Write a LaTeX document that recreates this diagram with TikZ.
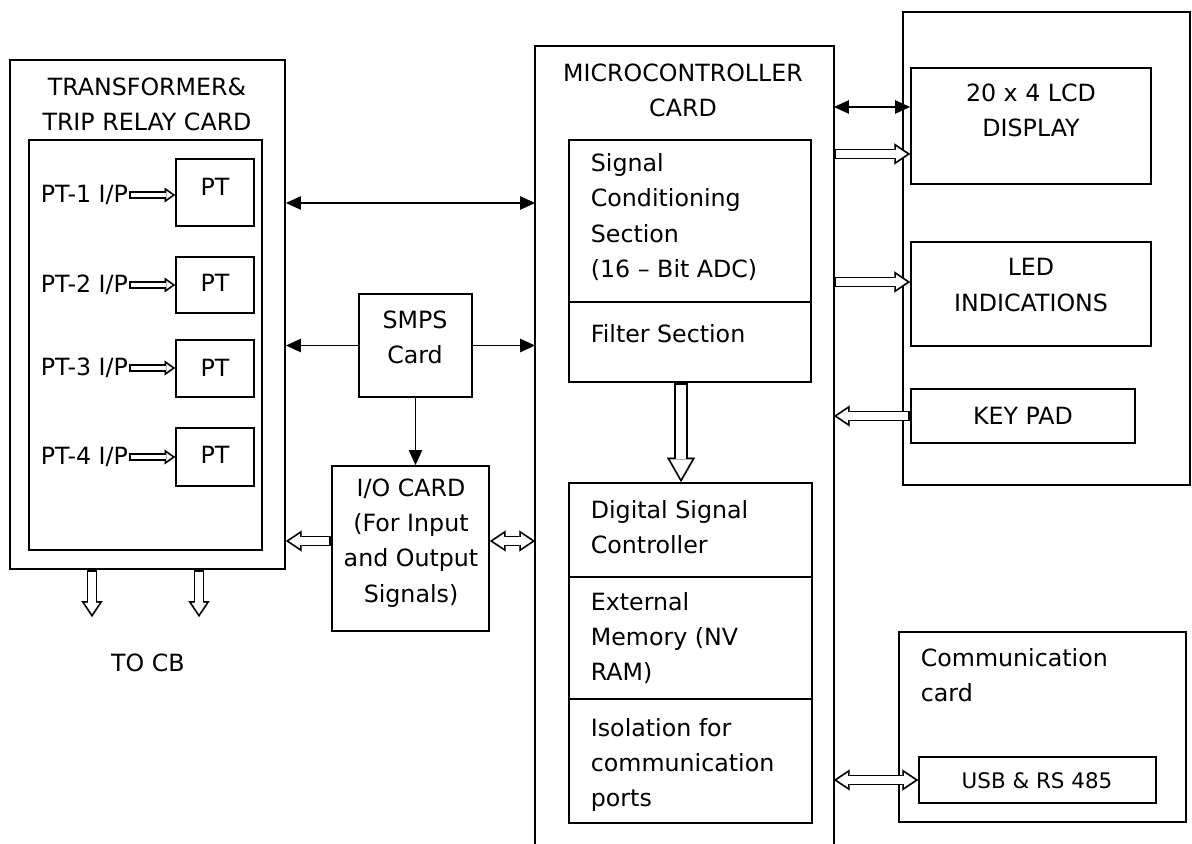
\documentclass[tikz,border=0pt]{standalone}
\usepackage{fontspec}
\setmainfont{DejaVu Sans}
\usetikzlibrary{positioning,fit,arrows.meta}

\begin{document}
\begin{tikzpicture}[
	x=0.02cm, y=-0.02cm,
	font=\fontsize{13.5}{20}\selectfont,
	line width=1pt,
	box/.style={draw, rectangle, inner sep=0pt, fit={#1}},
	txt/.style={inner sep=0pt, align=center},
	ltxt/.style={inner sep=0pt, align=left, anchor=west},
	line/.style={draw, >={Triangle[length=8.5pt,width=7.5pt]}},
	hout/.tip={Triangle[length=9pt,width=12pt,line width=.01pt]},
	hin/.tip={Triangle[length=6.2pt,width=8.3pt,line width=.01pt]},
	tout/.tip={Triangle[length=6pt,width=8.5pt,line width=.01pt]},
	tin/.tip={Triangle[length=3.3pt,width=4.6pt,line width=.01pt]},
	wout/.tip={Triangle[length=14pt,width=16pt,line width=.01pt]},
	win/.tip={Triangle[length=11pt,width=12.5pt,line width=.01pt]},
	hollow/.style={draw, line width=6.2pt, -{hout},
		postaction={draw=white, line width=4.2pt, shorten <=1pt, shorten >=1.8pt, -{hin}}},
	hollow both/.style={draw, line width=6.2pt, {hout}-{hout},
		postaction={draw=white, line width=4.2pt, shorten <=1.8pt, shorten >=1.8pt, {hin}-{hin}}},
	thin hollow/.style={draw, line width=4.2pt, -{tout},
		postaction={draw=white, line width=2.2pt, shorten <=1pt, shorten >=1.7pt, -{tin}}},
	wide hollow/.style={draw, line width=8.2pt, -{wout},
		postaction={draw=white, line width=6.2pt, shorten <=1pt, shorten >=2pt, -{win}}},
	]
	\useasboundingbox (0,0) rectangle (1192,844);

	\node[box={(10,60) (285,569)}] (tfr) {};
	\node[txt] (tfrttl) at (147,104) {TRANSFORMER\&\\TRIP RELAY CARD};
	\node[box={(29,140) (262,550)}] (tfrin) {};
	\node[box={(176,159) (254,226)}] (pt1) {};
	\node[box={(176,257) (254,313)}] (pt2) {};
	\node[box={(176,340) (254,397)}] (pt3) {};
	\node[box={(176,428) (254,486)}] (pt4) {};
	\node[txt] (pt1txt) at (215,187) {PT};
	\node[txt] (pt2txt) at (215,283) {PT};
	\node[txt] (pt3txt) at (215,368) {PT};
	\node[txt] (pt4txt) at (215,455) {PT};
	\node[ltxt] (in1) at (40,195) {PT-1 I/P};
	\node[ltxt] (in2) at (40,285) {PT-2 I/P};
	\node[ltxt] (in3) at (40,368) {PT-3 I/P};
	\node[ltxt] (in4) at (40,457) {PT-4 I/P};
	\node[txt] (tocb) at (148,663) {TO CB};
	\coordinate (cb1) at (92,617);
	\coordinate (cb2) at (199,617);

	\node[box={(359,294) (472,397)}] (smps) {};
	\node[txt] (smpstxt) at (415,337) {SMPS\\Card};
	\node[box={(332,466) (489,631)}] (io) {};
	\node[txt] (iotxt) at (411,543) {I/O CARD\\(For Input\\and Output\\Signals)};

	\node[fit={(536,47) (833,844)}, inner sep=0pt] (mc) {};
	\draw (mc.south west) -- (mc.north west) -- (mc.north east) -- (mc.south east);
	\node[txt] (mcttl) at (683,90) {MICROCONTROLLER\\CARD};
	\node[box={(569,140) (811,302)}] (sig) {};
	\node[ltxt] (sigtxt) at (590,217) {Signal\\Conditioning\\Section\\(16 -- Bit ADC)};
	\node[box={(569,302) (811,382)}] (filt) {};
	\node[ltxt] (filttxt) at (590,334) {Filter Section};
	\node[box={(569,483) (812,577)}] (dsc) {};
	\node[ltxt] (dsctxt) at (590,527) {Digital Signal\\Controller};
	\node[box={(569,577) (812,699)}] (mem) {};
	\node[ltxt] (memtxt) at (590,638) {External\\Memory (NV\\RAM)};
	\node[box={(569,699) (812,823)}] (iso) {};
	\node[ltxt] (isotxt) at (590,765) {Isolation for\\communication\\ports};
	\coordinate (fx) at (681,0);

	\node[box={(903,12) (1190,485)}] (hmi) {};
	\node[box={(911,68) (1151,184)}] (lcd) {};
	\node[txt] (lcdtxt) at (1031,110) {20 x 4 LCD\\DISPLAY};
	\node[box={(911,242) (1151,346)}] (led) {};
	\node[txt] (ledtxt) at (1031,285) {LED\\INDICATIONS};
	\node[box={(911,389) (1135,443)}] (key) {};
	\node[txt] (keytxt) at (1023,416) {KEY PAD};
	\node[box={(899,632) (1186,822)}] (com) {};
	\node[ltxt] (comtxt) at (920,675) {Communication\\card};
	\node[box={(919,757) (1156,803)}] (usb) {};
	\node[txt, font=\fontsize{12.2}{15}\selectfont] (usbtxt) at (1037,781) {USB \& RS 485};

	\coordinate (r1) at (0,203);
	\coordinate (r2) at (0,541);
	\coordinate (r3) at (0,107);
	\coordinate (r4) at (0,154);
	\coordinate (r5) at (0,282);

	%connections
	\path[line,<->] (tfr.east |- r1) -- (mc.west |- r1);
	\path[line,->] (smps.west) -- (smps.west -| tfr.east);
	\path[line,->] (smps.east) -- (smps.east -| mc.west);
	\path[line,->] (smps.south) -- (smps.south |- io.north);
	\path[hollow] (io.west |- r2) -- (tfr.east |- r2);
	\path[hollow both] (io.east |- r2) -- (mc.west |- r2);
	\path[hollow] (tfr.south -| cb1) -- (cb1);
	\path[hollow] (tfr.south -| cb2) -- (cb2);
	\path[thin hollow] (in1.east) -- (in1.east -| pt1.west);
	\path[thin hollow] (in2.east) -- (in2.east -| pt2.west);
	\path[thin hollow] (in3.east) -- (in3.east -| pt3.west);
	\path[thin hollow] (in4.east) -- (in4.east -| pt4.west);
	\path[wide hollow] (filt.south -| fx) -- (dsc.north -| fx);
	\path[line,<->] (mc.east |- r3) -- (lcd.west |- r3);
	\path[hollow] (mc.east |- r4) -- (lcd.west |- r4);
	\path[hollow] (mc.east |- r5) -- (led.west |- r5);
	\path[hollow] (key.west) -- (key.west -| mc.east);
	\path[hollow both] (usb.west) -- (usb.west -| mc.east);
\end{tikzpicture}
\end{document}
